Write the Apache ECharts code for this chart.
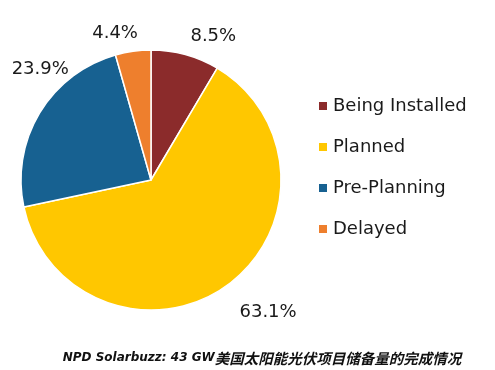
<!DOCTYPE html>
<html><head><meta charset="utf-8">
<script src="https://cdn.jsdelivr.net/npm/echarts@6/dist/echarts.min.js"></script>
<style>html,body{margin:0;padding:0;background:#fff}#c{width:495px;height:370px}</style>
</head><body><div id="c"></div>
<script>
const categories = ['Being Installed', 'Planned', 'Pre-Planning', 'Delayed'];
const shares = [8.5, 63.1, 23.9, 4.4];
const colors = ['#8B2B2B', '#FFC700', '#176191', '#EE7F2D'];
const caption = 'NPD Solarbuzz: 43 GW';
const captionZh = '美国太阳能光伏项目储备量的完成情况';
// label nudges (layout only)
const labelNudge = [[-6, -11], [-1, 20], [45, -39], [15, -10]];

const chart = echarts.init(document.getElementById('c'), null, {renderer: 'canvas'});
chart.setOption({
  animation: false,
  color: colors,
  title: {
    text: '{a|' + caption + '}{b|' + captionZh + '}',
    left: 257, top: 346, textAlign: 'center',
    textStyle: {
      rich: {
        a: {fontFamily: 'DejaVu Sans', fontSize: 12, fontWeight: 'bold', fontStyle: 'italic', color: '#111'},
        b: {fontFamily: 'Noto Sans CJK SC', fontSize: 14.5, fontWeight: 'bold', fontStyle: 'italic', color: '#111'}
      }
    }
  },
  legend: {
    orient: 'vertical', left: 312, top: 92,
    itemWidth: 10, itemHeight: 10, itemGap: 23, icon: 'rect',
    textStyle: {fontFamily: 'DejaVu Sans', fontSize: 18, color: '#1a1a1a', padding: [0, 0, 0, 0]},
    data: categories
  },
  series: [{
    type: 'pie',
    center: [151, 180], radius: 130,
    startAngle: 90, clockwise: true,
    itemStyle: {borderColor: '#fff', borderWidth: 1.5},
    label: {show: true, position: 'outside', formatter: p => p.value + '%', overflow: 'none',
      fontFamily: 'DejaVu Sans', fontSize: 18, color: '#1a1a1a'},
    labelLine: {show: false, length: 8, length2: 4},
    labelLayout: p => ({dx: labelNudge[p.dataIndex][0], dy: labelNudge[p.dataIndex][1], hideOverlap: false}),
    data: categories.map((n, i) => ({name: n, value: shares[i]}))
  }]
});
</script></body></html>
